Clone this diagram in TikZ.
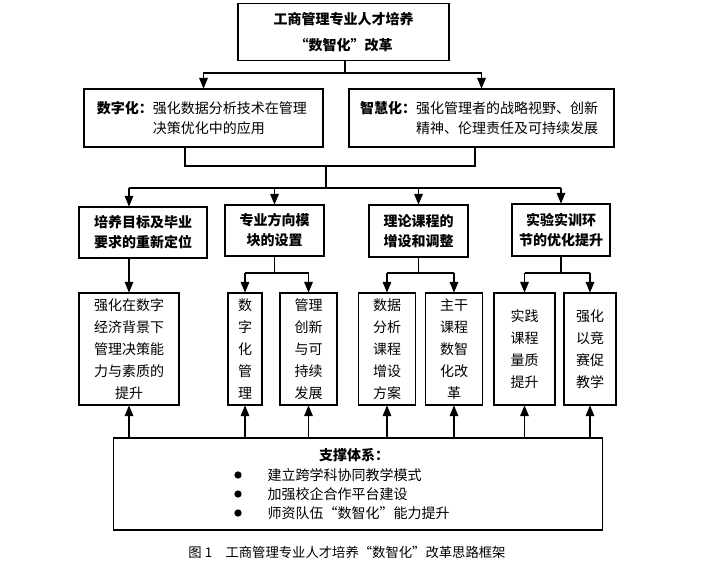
\documentclass[tikz,border=0pt]{standalone}
\usepackage{fontspec}
\setmainfont{Noto Sans CJK SC}
\usetikzlibrary{arrows}

\begin{document}
\begin{tikzpicture}[x=0.75pt,y=-0.75pt,thick,line width=0.8pt,
  box/.style 2 args={draw,align=center,inner sep=1pt,minimum width=#1*0.75pt,minimum height=#2*0.75pt,font=\fontsize{10.5}{15}\selectfont},
  col/.style={draw,align=center,inner sep=1pt,minimum height=112*0.75pt,font=\fontsize{10.5}{16.5}\selectfont},
  arr/.style={-triangle 45}]
\useasboundingbox (0,0) rectangle (714,563);

\node[box={211}{57},font=\bfseries\fontsize{10.5}{19}\selectfont] (top) at (343.5,32) {工商管理专业人才培养\\“数智化”改革};
\node[box={239}{58}] (dig) at (203.5,118) {\textbf{数字化：}\parbox[t]{118pt}{强化数据分析技术在管理\\决策优化中的应用}};
\node[box={265}{58}] (wis) at (481.5,118) {\textbf{智慧化：}\parbox[t]{140pt}{强化管理者的战略视野、创新\\精神、伦理责任及可持续发展}};

\node[box={128}{51},font=\bfseries\fontsize{10.5}{15}\selectfont] (goal) at (143,232.5) {培养目标及毕业\\要求的重新定位};
\node[box={99}{51},font=\bfseries\fontsize{10.5}{15}\selectfont] (mod) at (274.5,230.5) {专业方向模\\块的设置};
\node[box={99}{52},font=\bfseries\fontsize{10.5}{15}\selectfont] (cour) at (418.5,231) {理论课程的\\增设和调整};
\node[box={98}{52},font=\bfseries\fontsize{10.5}{15}\selectfont] (prac) at (561,230) {实验实训环\\节的优化提升};

% third row
\node[col,minimum width=100*0.75pt] (A) at (129,349) {强化在数字\\经济背景下\\管理决策能\\力与素质的\\提升};
\node[col,minimum width=34*0.75pt] (B1) at (245,349) {数\\字\\化\\管\\理};
\node[col,minimum width=57*0.75pt] (B2) at (308.5,349) {管理\\创新\\与可\\持续\\发展};
\node[col,minimum width=57*0.75pt] (C1) at (387,349) {数据\\分析\\课程\\增设\\方案};
\node[col,minimum width=57*0.75pt] (C2) at (454,349) {主干\\课程\\数智\\化改\\革};
\node[col,minimum width=61*0.75pt] (D1) at (524.5,349) {实践\\课程\\量质\\提升};
\node[col,minimum width=52*0.75pt] (D2) at (590,349) {强化\\以竞\\赛促\\教学};

% support system
\node[box={489}{92}] (sup) at (358,484) {};
\node[font=\bfseries\fontsize{10.5}{12}\selectfont] (supt) at (354,455) {支撑体系：};
\foreach \i/\yy/\txt in {1/475/建立跨学科协同教学模式,2/494/加强校企合作平台建设,3/513/师资队伍“数智化”能力提升}{
  \node[circle,fill,inner sep=0pt,minimum size=5.5pt] (dot\i) at (238,\yy) {};
  \node[anchor=west,inner sep=0pt,font=\fontsize{10.5}{12}\selectfont] (item\i) at (267,\yy) {\txt};
}

% connectors
\coordinate (j1) at (345,73);
\draw (top.south -| j1) -- (j1);
\draw[arr] (j1) -| (dig.north);
\draw[arr] (j1) -| (wis.north);
\coordinate (jL) at (185,166);
\coordinate (jR) at (475,166);
\coordinate (jM) at (326,166);
\coordinate (h) at (326,188);
\draw (jL |- dig.south) -- (jL) -- (jR) -- (jR |- wis.south);
\draw (jM) -- (h);
\draw (A.north |- h) -- (h -| prac.north);
\foreach \n in {mod,cour,prac}{
  \draw[arr] (\n.north |- h) -- (\n.north);
}
\draw[arr] (A.north |- h) -- (A.north |- goal.north);
\draw[arr] (A.north |- goal.south) -- (A.north);
\coordinate (hs) at (0,273);
\foreach \p/\l/\r in {mod/B1/B2,cour/C1/C2,prac/D1/D2}{
  \draw (\p.south) -- (\p.south |- hs);
  \draw (\l.north |- hs) -- (\r.north |- hs);
  \draw[arr] (\l.north |- hs) -- (\l.north);
  \draw[arr] (\r.north |- hs) -- (\r.north);
}
\foreach \n in {A,B1,B2,C1,C2,D1,D2}{
  \draw[arr] (\n.south |- sup.north) -- (\n.south);
}

\node[font=\fontsize{10}{12}\selectfont] (cap) at (347,552) {图 1\quad 工商管理专业人才培养“数智化”改革思路框架};
\end{tikzpicture}
\end{document}
